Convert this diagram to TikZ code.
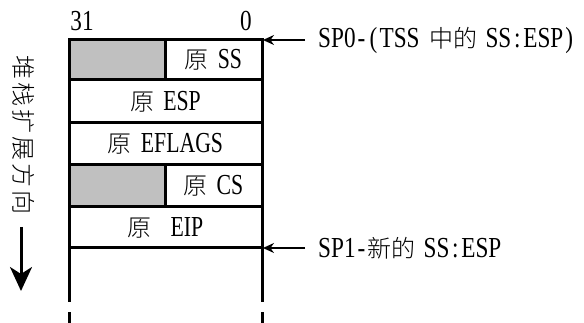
\documentclass[tikz,border=0pt]{standalone}
\usepackage{fontspec}
\setmainfont[FakeStretch=0.8]{Liberation Serif}
\newfontfamily\cellfont[FakeStretch=0.75]{Liberation Serif}
\newfontfamily\cjk{Noto Sans CJK SC Light}
\usetikzlibrary{arrows.meta}
\newcommand\zhc[1]{{\fontsize{24}{26}\selectfont\cjk #1}}
\newcommand\hw[1]{\makebox[12pt]{#1}}
\definecolor{cellgray}{RGB}{192,192,192}
\begin{document}
\begin{tikzpicture}[x=1pt,y=-1pt,
  txt/.style={font=\fontsize{29}{30}\selectfont},
  ctxt/.style={font=\fontsize{29}{30}\selectfont\cellfont},
  cell/.style={draw=black, line width=3pt, inner sep=0pt, outer sep=0pt, anchor=north west, ctxt},
  frame/.style={line width=3pt},
  parr/.style={line width=1.4pt, -{Stealth[length=11pt,width=10pt]}, shorten >=1pt},
  darr/.style={line width=3pt, -{Stealth[length=24pt,width=22pt,inset=7pt]}}
]
\useasboundingbox (0,0) rectangle (584,323);
% cells
\node[cell, fill=cellgray, minimum width=96pt, minimum height=40pt] (g1) at (69,40) {};
\node[cell, minimum width=97pt, minimum height=40pt] (ss) at (165,40) {\zhc{原}\hspace{9pt}SS};
\node[cell, minimum width=193pt, minimum height=43pt] (esp) at (69,80) {\zhc{原}\hspace{9pt}ESP};
\node[cell, minimum width=193pt, minimum height=42pt] (efl) at (69,123) {\zhc{原}\hspace{9pt}EFLAGS};
\node[cell, fill=cellgray, minimum width=96pt, minimum height=42pt] (g2) at (69,165) {};
\node[cell, minimum width=97pt, minimum height=42pt] (cs) at (165,165) {\zhc{原}\hspace{9pt}CS};
\node[cell, minimum width=193pt, minimum height=41pt] (eip) at (69,207) {\zhc{原}\hspace{19pt}EIP};
% continuation lines
\coordinate (bl) at (69,290);
\coordinate (br) at (262,290);
\draw[frame] (eip.south west) -- (bl);
\draw[frame] (eip.south east) -- (br);
\draw[frame, dash pattern=on 12pt off 10pt] (bl) -- ++(0,34);
\draw[frame, dash pattern=on 12pt off 10pt] (br) -- ++(0,34);
% bit numbers
\node[txt] (b31) at (82,21) {31};
\node[txt] (b0) at (246,21) {0};
% right labels
\node[txt, anchor=west, inner sep=0pt] (t0) at (318,40) {SP0\hw{-}\hw{(}TSS\hspace{10pt}\zhc{中的}\hspace{8pt}SS\hw{:}ESP\hw{)}};
\node[txt, anchor=west, inner sep=0pt] (t1) at (318,248) {SP1\hw{-}\zhc{新的}\hspace{8pt}SS\hw{:}ESP};
\draw[parr] ([xshift=-13pt]t0.west) -- (ss.north east);
\draw[parr] ([xshift=-13pt]t1.west) -- (eip.south east);
% direction (rotated text)
\node[rotate=-90, inner sep=0pt] (dir) at (24,135)
  {\zhc{堆\hspace{3pt}栈\hspace{3pt}扩\hspace{3pt}展\hspace{3pt}方\hspace{3pt}向}};
\coordinate (da0) at (21,227);
\coordinate (da1) at (21,291);
\draw[darr] (da0) -- (da1);
\end{tikzpicture}
\end{document}
